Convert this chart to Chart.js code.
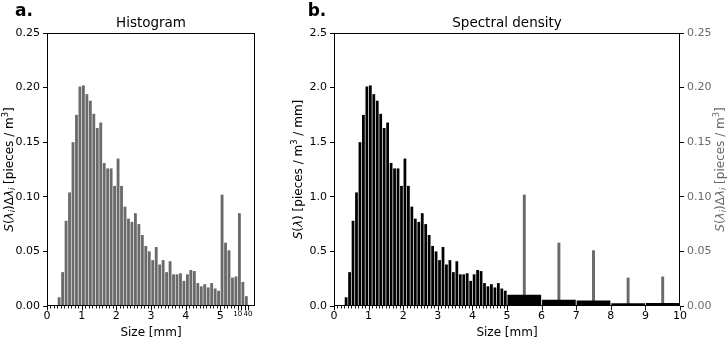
<!DOCTYPE html>
<html>
<head>
<meta charset="utf-8">
<script src="https://cdn.jsdelivr.net/npm/chart.js@4.4.1/dist/chart.umd.min.js"></script>
<style>
  html, body { margin: 0; padding: 0; background: #fff; }
  #wrap { position: relative; width: 727px; height: 338px; overflow: hidden; }
  canvas { position: absolute; top: 0; }
  #histCanvas { left: 0; }
  #specCanvas { left: 280px; }
</style>
</head>
<body>
<div id="wrap">
  <canvas id="histCanvas" width="300" height="338"></canvas>
  <canvas id="specCanvas" width="447" height="338"></canvas>
</div>
<script>
// bin edges [mm] of the size classes
const binEdges = [0.3, 0.4, 0.5, 0.6, 0.7, 0.8, 0.9, 1.0, 1.1, 1.2, 1.3, 1.4, 1.5, 1.6, 1.7, 1.8, 1.9,
  2.0, 2.1, 2.2, 2.3, 2.4, 2.5, 2.6, 2.7, 2.8, 2.9, 3.0, 3.1, 3.2, 3.3, 3.4, 3.5, 3.6, 3.7, 3.8, 3.9,
  4.0, 4.1, 4.2, 4.3, 4.4, 4.5, 4.6, 4.7, 4.8, 4.9, 5.0, 6, 7, 8, 9, 10, 20, 30, 40];

// S(lambda_i) * dLambda_i [pieces / m3] per bin
const histCounts = [0.008, 0.031, 0.078, 0.104, 0.150, 0.175, 0.201, 0.202, 0.194, 0.188, 0.176, 0.163,
  0.168, 0.131, 0.126, 0.126, 0.110, 0.135, 0.110, 0.091, 0.080, 0.077, 0.085, 0.075, 0.065, 0.055,
  0.050, 0.042, 0.054, 0.038, 0.042, 0.031, 0.041, 0.029, 0.029, 0.030, 0.023, 0.029, 0.033, 0.032,
  0.021, 0.018, 0.020, 0.017, 0.021, 0.016, 0.014,
  0.102, 0.058, 0.051, 0.026, 0.027, 0.085, 0.022, 0.009];

// tick labels of the histogram panel (equal-width slots)
const histTickPos = [0, 1, 2, 3, 4, 5, 5.5, 5.8];
const histTickText = ['0', '1', '2', '3', '4', '5', '10', '40'];

const grayBar = '#6a6a6a';
const FONT = '"DejaVu Sans"';

// draw a string made of plain / italic / sub / sup pieces
function richText(ctx, segs, x, y, size, color, rotate) {
  ctx.save();
  ctx.translate(x, y);
  if (rotate) ctx.rotate(-Math.PI / 2);
  ctx.fillStyle = color;
  ctx.textBaseline = 'alphabetic';
  const fontOf = s => (s.bold ? 'bold ' : '') + (s.it ? 'italic ' : '') +
    ((s.sub || s.sup) ? size * 0.7 : size) + 'px ' + FONT;
  let total = 0;
  segs.forEach(s => { ctx.font = fontOf(s); total += ctx.measureText(s.t).width; });
  let cx = -total / 2;
  segs.forEach(s => {
    ctx.font = fontOf(s);
    const dy = s.sub ? size * 0.2 : (s.sup ? -size * 0.42 : 0);
    ctx.fillText(s.t, cx, dy);
    cx += ctx.measureText(s.t).width;
  });
  ctx.restore();
}

const countLabel = [
  { t: 'S', it: true }, { t: '(' }, { t: 'λ', it: true }, { t: 'i', it: true, sub: true }, { t: ')Δ' },
  { t: 'λ', it: true }, { t: 'i', it: true, sub: true }, { t: ' [pieces / m' }, { t: '3', sup: true }, { t: ']' }
];
const densityLabel = [
  { t: 'S', it: true }, { t: '(' }, { t: 'λ', it: true }, { t: ') [pieces / m' }, { t: '3', sup: true }, { t: ' / mm]' }
];

// frame, x tick marks and all titles
const axisFrame = {
  id: 'axisFrame',
  afterDraw(chart, args, o) {
    const { ctx, chartArea: a } = chart;
    const xs = chart.scales.x;
    ctx.save();
    ctx.strokeStyle = '#000';
    ctx.lineWidth = 0.9;
    ctx.beginPath();
    o.minorTicks.forEach(v => {
      const px = Math.round(xs.getPixelForValue(v)) + 0.5;
      ctx.moveTo(px, a.bottom); ctx.lineTo(px, a.bottom + 2.5);
    });
    o.majorTicks.forEach(v => {
      const px = Math.round(xs.getPixelForValue(v)) + 0.5;
      ctx.moveTo(px, a.bottom); ctx.lineTo(px, a.bottom + 4.5);
    });
    ctx.stroke();
    ctx.lineWidth = 1;
    ctx.strokeRect(a.left + 0.5, a.top + 0.5, a.right - a.left - 1, a.bottom - a.top - 1);
    ctx.restore();

    const midX = (a.left + a.right) / 2;
    const midY = (a.top + a.bottom) / 2;
    richText(ctx, [{ t: o.title }], midX, 27, 13.5, '#000', false);
    richText(ctx, [{ t: 'Size [mm]' }], midX, 335.5, 12, '#000', false);
    richText(ctx, [{ t: o.letter, bold: true }], o.letterX, 15.7, 17, '#000', false);
    o.yLabels.forEach(l => richText(ctx, l.segs, l.x, midY, 12, l.color, true));
  }
};

const tickFont = { family: FONT, size: 11 };

// ---- a. Histogram ----
const slotStart = 0.3, slot = 0.1;
const histPoints = histCounts.map((v, i) => ({ x: slotStart + slot * (i + 0.5), y: v }));
const histMinor = [];
for (let i = 0; i <= 58; i++) histMinor.push(i / 10);

new Chart(document.getElementById('histCanvas'), {
  type: 'bar',
  data: {
    datasets: [{
      data: histPoints,
      backgroundColor: grayBar,
      barPercentage: 0.82,
      categoryPercentage: 1,
      grouped: false
    }]
  },
  options: {
    responsive: false,
    animation: false,
    devicePixelRatio: 1,
    layout: { padding: { left: 0, right: 45, top: 33, bottom: 0 } },
    plugins: {
      legend: { display: false },
      tooltip: { enabled: false },
      axisFrame: {
        title: 'Histogram', letter: 'a.', letterX: 24,
        minorTicks: histMinor,
        majorTicks: [0, 1, 2, 3, 4, 5, 5.5, 5.6, 5.7, 5.8],
        yLabels: [{ segs: countLabel, x: 13, color: '#000' }]
      }
    },
    scales: {
      x: {
        type: 'linear', min: 0, max: 6, offset: false,
        afterFit: s => { s.height = 32; },
        afterBuildTicks: s => { s.ticks = histTickPos.map(v => ({ value: v })); },
        grid: { display: false, drawTicks: false, offset: false },
        border: { display: false },
        ticks: {
          autoSkip: false, maxRotation: 0, padding: 4, color: '#000',
          font: c => ({ family: FONT, size: (c.tick && c.tick.value > 5.2) ? 7 : 11 }),
          callback: (v, i) => histTickText[i]
        }
      },
      y: {
        min: 0, max: 0.25,
        afterFit: s => { s.width = 47; },
        ticks: { stepSize: 0.05, callback: v => v.toFixed(2), padding: 3, color: '#000', font: tickFont },
        grid: { drawOnChartArea: false, tickLength: 4, color: '#000' },
        border: { display: false }
      }
    }
  },
  plugins: [axisFrame]
});

// ---- b. Spectral density ----
const fineBars = [], wideBars = [], binCounts = [];
histCounts.forEach((v, i) => {
  const e0 = binEdges[i], e1 = binEdges[i + 1];
  if (e1 > 10) return;
  const w = e1 - e0, c = (e0 + e1) / 2;
  if (w < 0.5) fineBars.push({ x: c, y: v / w });
  else { wideBars.push({ x: c, y: v / w }); binCounts.push({ x: c, y: v }); }
});
const specMinor = [];
for (let i = 0; i <= 50; i++) specMinor.push(i / 10);

new Chart(document.getElementById('specCanvas'), {
  type: 'bar',
  data: {
    datasets: [
      { data: fineBars, backgroundColor: '#000', barPercentage: 0.8, categoryPercentage: 1, grouped: false, yAxisID: 'y' },
      { data: wideBars, backgroundColor: '#000', barPercentage: 9.75, categoryPercentage: 1, grouped: false, yAxisID: 'y' },
      { data: binCounts, backgroundColor: grayBar, barPercentage: 0.85, categoryPercentage: 1, grouped: false, yAxisID: 'y2' }
    ]
  },
  options: {
    responsive: false,
    animation: false,
    devicePixelRatio: 1,
    layout: { padding: { left: 0, right: 0, top: 33, bottom: 0 } },
    plugins: {
      legend: { display: false },
      tooltip: { enabled: false },
      axisFrame: {
        title: 'Spectral density', letter: 'b.', letterX: 37,
        minorTicks: specMinor,
        majorTicks: [0, 1, 2, 3, 4, 5, 6, 7, 8, 9, 10],
        yLabels: [
          { segs: densityLabel, x: 22, color: '#000' },
          { segs: countLabel, x: 444, color: grayBar }
        ]
      }
    },
    scales: {
      x: {
        type: 'linear', min: 0, max: 10, offset: false,
        afterFit: s => { s.height = 32; },
        grid: { display: false, drawTicks: false, offset: false },
        border: { display: false },
        ticks: { stepSize: 1, autoSkip: false, maxRotation: 0, padding: 4, color: '#000', font: tickFont }
      },
      y: {
        position: 'left', min: 0, max: 2.5,
        afterFit: s => { s.width = 54; },
        ticks: { stepSize: 0.5, callback: v => v.toFixed(1), padding: 3, color: '#000', font: tickFont },
        grid: { drawOnChartArea: false, tickLength: 4, color: '#000' },
        border: { display: false }
      },
      y2: {
        position: 'right', min: 0, max: 0.25,
        afterFit: s => { s.width = 47; },
        ticks: { stepSize: 0.05, callback: v => v.toFixed(2), padding: 3, color: grayBar, font: tickFont },
        grid: { drawOnChartArea: false, tickLength: 4, color: '#000' },
        border: { display: false }
      }
    }
  },
  plugins: [axisFrame]
});
</script>
</body>
</html>
